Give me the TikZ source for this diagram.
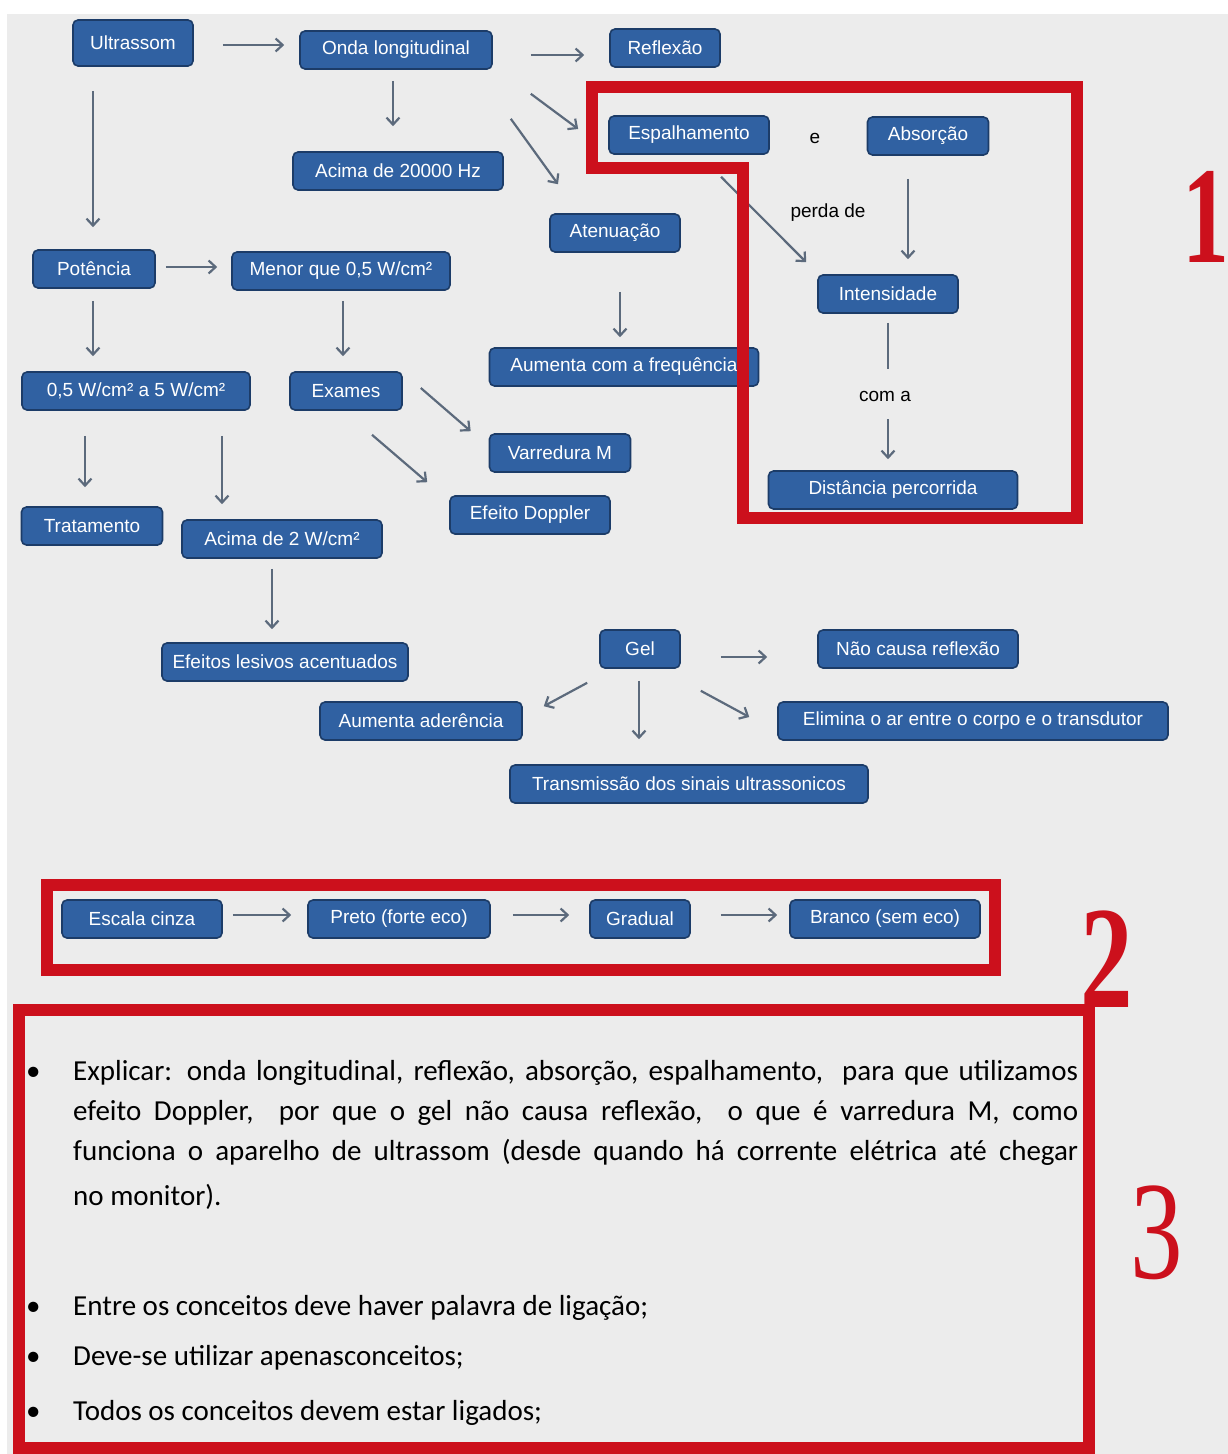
\documentclass[tikz,border=0pt]{standalone}
\usepackage{fontspec}
\setmainfont{Liberation Sans}
\newfontfamily\bodyfont{Carlito}
\newfontfamily\numfont{Liberation Serif}
\usetikzlibrary{arrows.meta,calc}

\definecolor{pagebg}{RGB}{236,236,236}
\definecolor{boxfill}{RGB}{48,97,162}
\definecolor{boxline}{RGB}{28,60,104}
\definecolor{arrowc}{RGB}{92,106,124}
\definecolor{markred}{RGB}{204,16,28}

\begin{document}
\begin{tikzpicture}[x=1pt,y=-1pt,
  concept/.style={draw=boxline, line width=1.6pt, fill=boxfill, rounded corners=5pt,
    text=white, font=\fontsize{19}{21}\selectfont, minimum height=38pt,
    inner sep=0pt, anchor=center},
  linkword/.style={font=\fontsize{19}{21}\selectfont, text=black, inner sep=0pt},
  conn/.style={draw=arrowc, line width=2.2pt, -{Straight Barb[length=7pt,width=13pt,line width=2.2pt]}},
  plainline/.style={draw=arrowc, line width=2.2pt},
  frame/.style={draw=markred, line width=12pt, line join=miter},
  bignum/.style={text=markred, inner sep=0pt, anchor=base},
  bodyline/.style={font=\bodyfont\fontsize{29}{34}\selectfont, text=black, inner sep=0pt, anchor=base west},
]
\useasboundingbox (0,0) rectangle (1228,1454);
\fill[white] (0,0) rectangle (1228,1454);
\fill[pagebg] (7,14) rectangle (1228,1454);

% ---------- concept map ----------
\node[concept, minimum width=120pt, minimum height=46pt] (ultra) at (133,43) {Ultrassom};
\node[concept, minimum width=192pt] (onda) at (396,50) {Onda  longitudinal};
\node[concept, minimum width=110pt] (reflexao) at (665,48) {Reflexão};
\node[concept, minimum width=160pt] (espalh) at (689,135) {Espalhamento};
\node[concept, minimum width=121pt] (absorc) at (928,136) {Absorção};
\node[concept, minimum width=210pt] (acima20k) at (398,171) {Acima de  20000  Hz};
\node[concept, minimum width=130pt] (atenua) at (615,233) {Atenuação};
\node[concept, minimum width=140pt] (intens) at (888,294) {Intensidade};
\node[concept, minimum width=122pt] (potencia) at (94,269) {Potência};
\node[concept, minimum width=218pt] (menor) at (341,271) {Menor que 0,5  W/cm²};
\node[concept, minimum width=228pt] (faixa) at (136,391) {0,5 W/cm² a 5 W/cm²};
\node[concept, minimum width=112pt] (exames) at (346,391) {Exames};
\node[concept, minimum width=269pt] (aumentafreq) at (624,367) {Aumenta  com  a frequência};
\node[concept, minimum width=141pt] (varredura) at (560,453) {Varredura  M};
\node[concept, minimum width=160pt] (doppler) at (530,515) {Efeito  Doppler};
\node[concept, minimum width=249pt] (distancia) at (893,490) {Distância  percorrida};
\node[concept, minimum width=141pt] (tratamento) at (92,526) {Tratamento};
\node[concept, minimum width=200pt] (acima2) at (282,539) {Acima de  2 W/cm²};
\node[concept, minimum width=246pt] (efeitos) at (285,662) {Efeitos  lesivos  acentuados};
\node[concept, minimum width=80pt] (gel) at (640,649) {Gel};
\node[concept, minimum width=200pt] (naocausa) at (918,649) {Não causa reflexão};
\node[concept, minimum width=202pt] (aderencia) at (421,721) {Aumenta  aderência};
\node[concept, minimum width=390pt] (elimina) at (973,721) {Elimina o ar entre  o corpo  e o transdutor};
\node[concept, minimum width=358pt] (transmissao) at (689,784) {Transmissão  dos  sinais ultrassonicos};

\node[linkword] (le) at (815,138) {e};
\node[linkword] (lperda) at (828,213) {perda  de};
\node[linkword] (lcoma) at (885,396) {com  a};

% connectors
\draw[conn] ($(ultra.east)+(29,2)$) -- ($(ultra.east -| onda.west)+(-15,2)$);
\draw[conn] ($(onda.east)+(38,5)$) -- ($(onda.east -| reflexao.west)+(-25,5)$);
\draw[conn] ($(onda.south east)+(38,24)$) -- ($(espalh.west)+(-30,-6)$);
\draw[conn] ($(onda.south east)+(18,49)$) -- ($(atenua.north)+(-57,-29)$);
\draw[conn] ($(onda.south)+(-3,11)$) -- ($(onda.south |- acima20k.north)+(-3,-25)$);
\draw[conn] ($(potencia.north |- ultra.south)+(-1,24)$) -- ($(potencia.north)+(-1,-22)$);
\draw[conn] ($(espalh.south)+(32,22)$) -- ($(intens.north west)+(-11,-12)$);
\draw[conn] ($(absorc.south)+(-20,23)$) -- ($(intens.north)+(20,-15)$);
\draw[plainline] ($(intens.south)+(0,9)$) -- ($(intens.south |- lcoma.north)+(0,-22)$);
\draw[conn] ($(intens.south |- lcoma.south)+(0,18)$) -- ($(intens.south |- distancia.north)+(0,-11)$);
\draw[conn] ($(atenua.south)+(5,39)$) -- ($(aumentafreq.north)+(-4,-10)$);
\draw[conn] ($(potencia.east)+(10,-2)$) -- ($(potencia.east -| menor.west)+(-14,-2)$);
\draw[conn] ($(potencia.south)+(-1,12)$) -- ($(potencia.south |- faixa.north)+(-1,-15)$);
\draw[conn] ($(menor.south)+(2,10)$) -- ($(menor.south |- exames.north)+(2,-15)$);
\draw[conn] ($(exames.east)+(18,-3)$) -- ($(varredura.north west)+(-18,-2)$);
\draw[conn] ($(exames.south)+(26,24)$) -- ($(doppler.north west)+(-22,-13)$);
\draw[conn] ($(faixa.south -| tratamento.north)+(-7,25)$) -- ($(tratamento.north)+(-7,-19)$);
\draw[conn] ($(faixa.south -| acima2.north)+(-60,25)$) -- ($(acima2.north)+(-60,-15)$);
\draw[conn] ($(acima2.south)+(-10,10)$) -- ($(efeitos.north)+(-13,-13)$);
\draw[conn] ($(gel.east)+(40,8)$) -- ($(gel.east -| naocausa.west)+(-50,8)$);
\draw[conn] ($(gel.south west)+(-12,14)$) -- ($(aderencia.north east)+(21,5)$);
\draw[conn] ($(gel.south)+(-1,12)$) -- ($(gel.south |- transmissao.north)+(-1,-25)$);
\draw[conn] ($(gel.south east)+(20,22)$) -- ($(elimina.west)+(-28,-4)$);

% ---------- grey-scale row ----------
\node[concept, minimum width=160pt] (escala) at (142,919) {Escala cinza};
\node[concept, minimum width=182pt] (preto) at (399,919) {Preto  (forte eco)};
\node[concept, minimum width=100pt] (gradual) at (640,919) {Gradual};
\node[concept, minimum width=190pt] (branco) at (885,919) {Branco  (sem eco)};
\draw[conn] ($(escala.east)+(10,-4)$) -- ($(escala.east -| preto.west)+(-16,-4)$);
\draw[conn] ($(preto.east)+(22,-4)$) -- ($(preto.east -| gradual.west)+(-20,-4)$);
\draw[conn] ($(gradual.east)+(30,-4)$) -- ($(gradual.east -| branco.west)+(-12,-4)$);

% ---------- red frames and their numbers ----------
\draw[frame] (592,87) -- (1077,87) -- (1077,518) -- (743,518) -- (743,168) -- (592,168) -- cycle;
\draw[frame] (47,885) rectangle (995,970);
\draw[frame] (19,1010) rectangle (1089,1448);

\node[bignum, font=\numfont\bfseries\fontsize{138}{138}\selectfont] (num1) at (1206,262) {\scalebox{0.68}[1]{1}};
\node[bignum, font=\numfont\bfseries\fontsize{146}{146}\selectfont] (num2) at (1107,1007) {\scalebox{0.72}[1]{2}};
\node[bignum, font=\numfont\fontsize{140}{140}\selectfont] (num3) at (1157,1278) {\scalebox{0.75}[1]{3}};

% ---------- instructions ----------
\node[bodyline] (b1) at (26,1080) {•};
\node[bodyline] (t1) at (73,1080) {\makebox[1005pt][s]{Explicar: onda longitudinal, reflexão, absorção, espalhamento,\ \ para que utilizamos}};
\node[bodyline] (t2) at (73,1120) {\makebox[1005pt][s]{efeito Doppler,\ \ por que o gel não causa reflexão,\ \ o que é varredura M, como}};
\node[bodyline] (t3) at (73,1160) {\makebox[1005pt][s]{funciona o aparelho de ultrassom (desde quando há corrente elétrica até chegar}};
\node[bodyline] (t4) at (73,1205) {no monitor).};
\node[bodyline] (b2) at (26,1315) {•};
\node[bodyline] (t5) at (73,1315) {Entre os conceitos deve haver palavra de ligação;};
\node[bodyline] (b3) at (26,1365) {•};
\node[bodyline] (t6) at (73,1365) {Deve-se utilizar apenasconceitos;};
\node[bodyline] (b4) at (26,1420) {•};
\node[bodyline] (t7) at (73,1420) {Todos os conceitos devem estar ligados;};
\end{tikzpicture}
\end{document}
